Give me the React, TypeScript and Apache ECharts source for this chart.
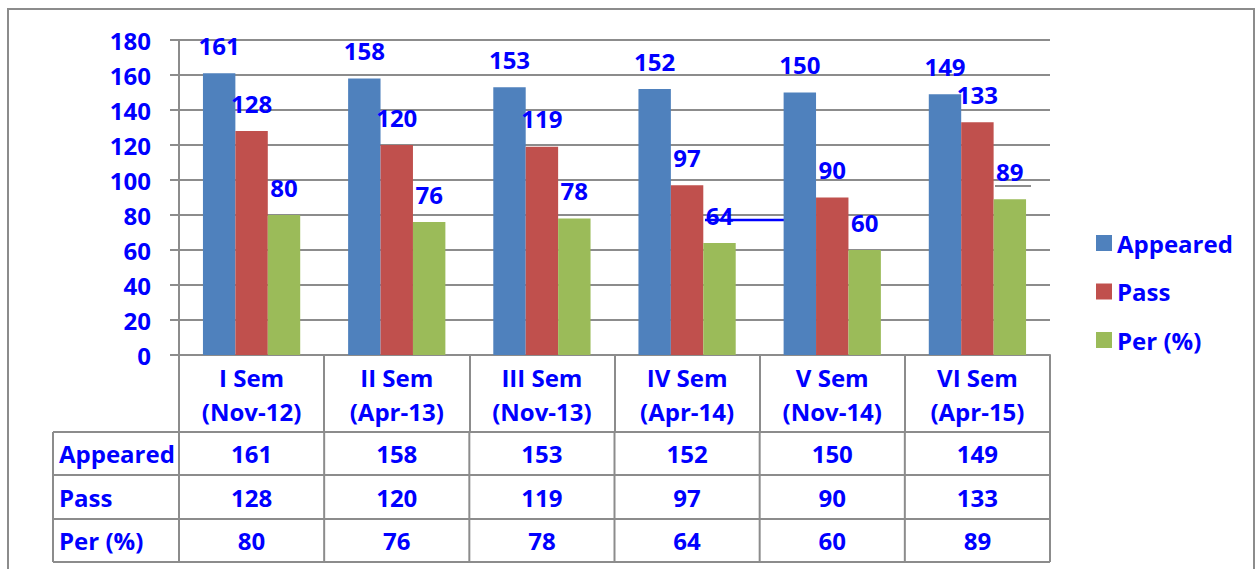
import React, { useEffect, useRef } from "react";
import * as echarts from "echarts";

const categories = ["I Sem\n(Nov-12)", "II Sem\n(Apr-13)", "III Sem\n(Nov-13)", "IV Sem\n(Apr-14)", "V Sem\n(Nov-14)", "VI Sem\n(Apr-15)"];
const appeared = [161, 158, 153, 152, 150, 149];
const pass = [128, 120, 119, 97, 90, 133];
const perc = [80, 76, 78, 64, 60, 89];
const seriesNames = ["Appeared", "Pass", "Per (%)"];
const colors = ["#4F81BD", "#C0504D", "#9BBB59"];

const W = 1258;
const H = 569;
const GRID_LEFT = 179;
const GRID_RIGHT_X = 1050;
const GRID_TOP = 40;
const GRID_BOTTOM_Y = 355;
const FONT = "'Open Sans', 'Liberation Sans', sans-serif";
const BLUE = "#0000ff";
const LINE = "#8c8c8c";

export default function App() {
  const ref = useRef<HTMLDivElement>(null);
  useEffect(() => {
    document.body.style.margin = "0";
    if (!ref.current) return;
    const chart = echarts.init(ref.current, undefined, { renderer: "svg" });
    const txt = { fontFamily: FONT, fontWeight: "bold" as const, fontSize: 24, color: BLUE };

    const gridW = GRID_RIGHT_X - GRID_LEFT;
    const cw = gridW / categories.length;
    const rowsY = [432, 475, 519, 562];
    const tableLeft = 53;
    const graphics: any[] = [];
    // outer frame
    graphics.push({
      type: "rect",
      shape: { x: 8, y: 9, width: 1246, height: 600 },
      style: { fill: "none", stroke: LINE, lineWidth: 2 },
      silent: true,
    });
    rowsY.forEach((y) => {
      graphics.push({ type: "line", shape: { x1: tableLeft, y1: y, x2: GRID_RIGHT_X, y2: y }, style: { stroke: LINE, lineWidth: 2 } });
    });
    const vx = [tableLeft];
    for (let i = 0; i <= categories.length; i++) vx.push(GRID_LEFT + i * cw);
    vx.forEach((x) => {
      graphics.push({ type: "line", shape: { x1: x, y1: rowsY[0], x2: x, y2: rowsY[3] }, style: { stroke: LINE, lineWidth: 2 } });
    });
    const rows = [appeared, pass, perc];
    rows.forEach((vals, r) => {
      const cy = (rowsY[r] + rowsY[r + 1]) / 2;
      graphics.push({
        type: "text",
        x: 59,
        y: cy,
        style: { text: seriesNames[r], font: `bold 24px ${FONT}`, fill: BLUE, textAlign: "left", textVerticalAlign: "middle" },
      });
      vals.forEach((v, i) => {
        graphics.push({
          type: "text",
          x: GRID_LEFT + (i + 0.5) * cw,
          y: cy,
          style: { text: String(v), font: `bold 24px ${FONT}`, fill: BLUE, textAlign: "center", textVerticalAlign: "middle" },
        });
      });
    });
    // stray marks visible in the source rendering
    graphics.push({ type: "line", shape: { x1: 705, y1: 220, x2: 784, y2: 220 }, style: { stroke: "#0000ff", lineWidth: 2.5 } });
    graphics.push({ type: "line", shape: { x1: 995, y1: 186, x2: 1031, y2: 186 }, style: { stroke: LINE, lineWidth: 2 } });

    const mkSeries = (name: string, data: number[], color: string) => ({
      name,
      type: "bar",
      data,
      barGap: "0%",
      barCategoryGap: "33%",
      itemStyle: { color },
      label: { show: true, position: "top", distance: 16, ...txt },
    });

    chart.setOption({
      animation: false,
      backgroundColor: "#ffffff",
      grid: { left: GRID_LEFT, right: W - GRID_RIGHT_X, top: GRID_TOP, bottom: H - GRID_BOTTOM_Y, containLabel: false },
      legend: {
        orient: "vertical",
        left: 1091,
        top: 226,
        itemWidth: 16,
        itemHeight: 16,
        itemGap: 24.5,
        icon: "rect",
        textStyle: { ...txt, lineHeight: 24 },
        data: seriesNames,
      },
      xAxis: {
        type: "category",
        data: categories,
        axisLine: { show: true, lineStyle: { color: LINE, width: 2 } },
        axisTick: { show: true, length: 77, lineStyle: { color: LINE, width: 2 } },
        axisLabel: { ...txt, lineHeight: 34, margin: 5, interval: 0 },
        splitLine: { show: false },
      },
      yAxis: {
        type: "value",
        min: 0,
        max: 180,
        interval: 20,
        axisLine: { show: true, lineStyle: { color: LINE, width: 2 } },
        axisTick: { show: true, length: 9, lineStyle: { color: LINE, width: 2 } },
        axisLabel: { ...txt, margin: 28 },
        splitLine: { show: true, lineStyle: { color: LINE, width: 2 } },
      },
      series: [
        mkSeries(seriesNames[0], appeared, colors[0]),
        mkSeries(seriesNames[1], pass, colors[1]),
        mkSeries(seriesNames[2], perc, colors[2]),
      ],
      graphic: graphics,
    });
    return () => chart.dispose();
  }, []);
  return <div ref={ref} style={{ width: W, height: H }} />;
}
